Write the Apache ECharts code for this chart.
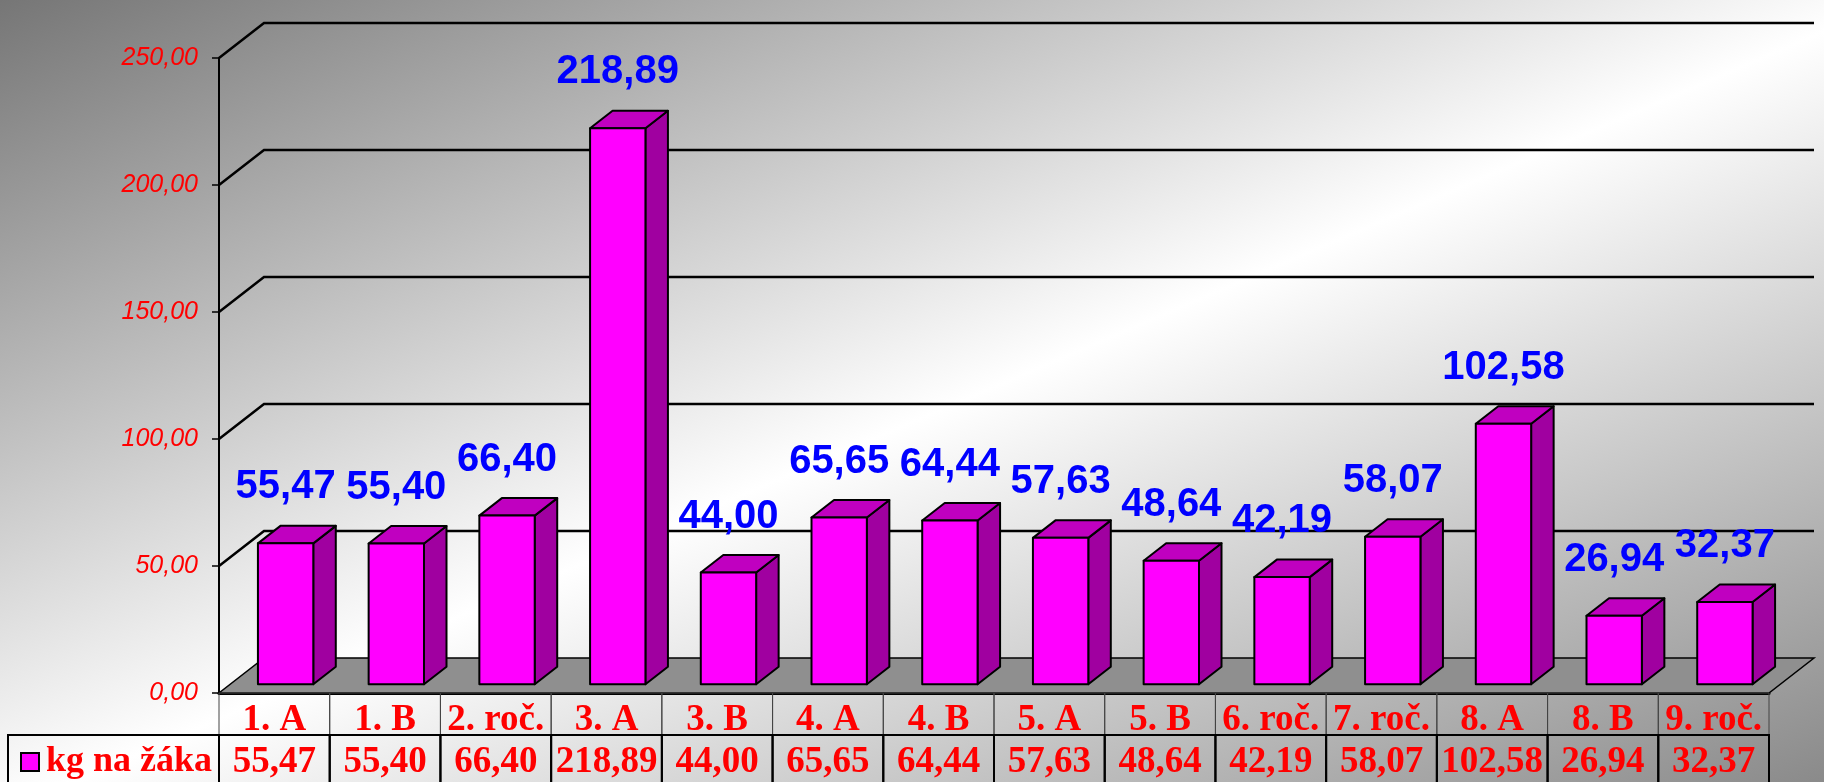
<!DOCTYPE html>
<html>
<head>
<meta charset="utf-8">
<title>kg na žáka</title>
<script src="https://cdn.jsdelivr.net/npm/echarts@6/dist/echarts.min.js"></script>
<style>
  html, body { margin: 0; padding: 0; }
  #chart { width: 1824px; height: 782px; }
</style>
</head>
<body>
<div id="chart"></div>
<script>
const classes = ['1. A', '1. B', '2. roč.', '3. A', '3. B', '4. A', '4. B', '5. A', '5. B', '6. roč.', '7. roč.', '8. A', '8. B', '9. roč.'];
const kgPerPupil = [55.47, 55.40, 66.40, 218.89, 44.00, 65.65, 64.44, 57.63, 48.64, 42.19, 58.07, 102.58, 26.94, 32.37];
const yTicks = [0, 50, 100, 150, 200, 250];
const seriesName = 'kg na žáka';

const fmt = v => v.toFixed(2).replace('.', ',');

// fake 3D depth of the plot box, in pixels
const DX = 45, DY = -35;
const ROW1 = 42;        // height of the category row of the table
const TABLE_LEFT = 8;

const sans = '"Liberation Sans", Arial, sans-serif';
const serif = '"Liberation Serif", "Times New Roman", serif';

// back wall gridlines + floor
function renderWalls(params, api) {
  const cs = params.coordSys;
  const v = api.value(1);
  const y = api.coord([0, v])[1];
  const xl = cs.x, xr = cs.x + cs.width;
  if (v === 0) {
    return {
      type: 'polygon',
      shape: { points: [[xl, y], [xr, y], [xr + DX, y + DY], [xl + DX, y + DY]] },
      style: { fill: '#8f8f8f', stroke: '#000', lineWidth: 1.5 }
    };
  }
  return {
    type: 'polyline',
    shape: { points: [[xl, y], [xl + DX, y + DY], [xr + DX, y + DY]] },
    style: { fill: null, stroke: '#000', lineWidth: 2.5 }
  };
}

// data table cell borders
function renderTable(params, api) {
  const i = api.value(0);
  const c = api.coord([i, 0]);
  const w = api.size([1, 0])[0];
  const xl = c[0] - w / 2;
  const y0 = c[1];
  const bottom = api.getHeight() + 10;
  const children = [
    { type: 'rect', shape: { x: xl, y: y0, width: w, height: ROW1 },
      style: { fill: null, stroke: '#444', lineWidth: 1 } },
    { type: 'rect', shape: { x: xl, y: y0 + ROW1, width: w, height: bottom - y0 - ROW1 },
      style: { fill: null, stroke: '#000', lineWidth: 2 } }
  ];
  if (i === 0) {
    children.push({ type: 'rect', shape: { x: TABLE_LEFT, y: y0 + ROW1, width: xl - TABLE_LEFT, height: bottom - y0 - ROW1 },
      style: { fill: null, stroke: '#000', lineWidth: 2 } });
  }
  return { type: 'group', children: children };
}

// 3D looking bar with its value label
function renderBar(params, api) {
  const i = api.value(0), v = api.value(1);
  const base = api.coord([i, 0]);
  const top = api.coord([i, v]);
  const bw = api.size([1, 0])[0] * 0.5;
  const ox = DX * 0.25, oy = DY * 0.25;
  const dx = DX * 0.5, dy = DY * 0.5;
  const x0 = base[0] - bw / 2 + ox, x1 = x0 + bw;
  const yb = base[1] + oy, yt = top[1] + oy;
  const edge = { stroke: '#000', lineWidth: 2, lineJoin: 'round' };
  return {
    type: 'group',
    children: [
      { type: 'polygon', shape: { points: [[x1, yb], [x1 + dx, yb + dy], [x1 + dx, yt + dy], [x1, yt]] },
        style: Object.assign({ fill: '#a000a0' }, edge) },
      { type: 'polygon', shape: { points: [[x0, yt], [x1, yt], [x1 + dx, yt + dy], [x0 + dx, yt + dy]] },
        style: Object.assign({ fill: '#c000c0' }, edge) },
      { type: 'rect', shape: { x: x0, y: yt, width: bw, height: yb - yt },
        style: Object.assign({ fill: '#ff00ff' }, edge) },
      { type: 'text',
        style: { x: (x0 + x1) / 2, y: yt - 56, text: fmt(v), fill: '#0000ff',
                 font: 'bold 40px ' + sans, align: 'center', verticalAlign: 'middle' } }
    ]
  };
}

const chart = echarts.init(document.getElementById('chart'));
chart.setOption({
  animation: false,
  backgroundColor: {
    type: 'linear', global: true, x: 0, y: 0, x2: 566, y2: 1321,
    colorStops: [
      { offset: 0, color: '#767676' },
      { offset: 0.52, color: '#ffffff' },
      { offset: 1, color: '#8a8a8a' }
    ]
  },
  grid: { left: 219, right: 55, top: 58, bottom: 89 },
  legend: {
    data: [seriesName],
    left: 20, top: 744, padding: 0,
    icon: 'rect', itemWidth: 18, itemHeight: 18, itemGap: 7,
    itemStyle: { borderColor: '#000', borderWidth: 2 },
    textStyle: { color: '#ff0000', fontFamily: serif, fontWeight: 'bold', fontSize: 36, padding: [0, 0, 0, 2] }
  },
  xAxis: [
    {
      type: 'category', data: classes, position: 'bottom',
      axisLine: { lineStyle: { color: '#000', width: 3 } },
      axisTick: { show: false },
      axisLabel: { interval: 0, margin: 27, verticalAlign: 'middle', color: '#ff0000',
                   fontFamily: serif, fontWeight: 'bold', fontSize: 37 },
      splitLine: { show: false }
    },
    {
      type: 'category', data: kgPerPupil.map(fmt), position: 'bottom', offset: 0,
      axisLine: { show: false }, axisTick: { show: false },
      axisLabel: { interval: 0, margin: 69, verticalAlign: 'middle', color: '#ff0000',
                   fontFamily: serif, fontWeight: 'bold', fontSize: 37 },
      splitLine: { show: false }
    }
  ],
  yAxis: {
    type: 'value', min: 0, max: 250, interval: 50,
    axisLine: { show: true, lineStyle: { color: '#000', width: 2 } },
    axisTick: { show: true, length: 7, lineStyle: { color: '#000', width: 1.5 } },
    axisLabel: { margin: 21, color: '#ff0000', fontFamily: sans, fontStyle: 'italic', fontSize: 25,
                 formatter: fmt },
    splitLine: { show: false }
  },
  series: [
    { type: 'custom', renderItem: renderWalls, clip: false, z: 1, silent: true,
      data: yTicks.map(v => [0, v]) },
    { type: 'custom', renderItem: renderTable, clip: false, z: 1, silent: true,
      data: classes.map((c, i) => [i, 0]) },
    { type: 'custom', name: seriesName, renderItem: renderBar, clip: false, z: 3,
      itemStyle: { color: '#ff00ff' },
      data: kgPerPupil.map((v, i) => [i, v]) }
  ]
});
</script>
</body>
</html>
